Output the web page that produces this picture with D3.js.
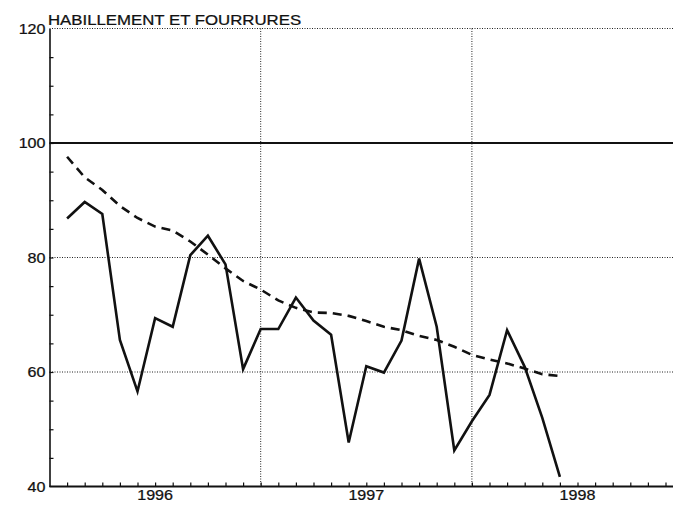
<!DOCTYPE html>
<html lang="fr">
<head>
<meta charset="utf-8">
<title>Habillement et fourrures</title>
<script src="https://cdn.jsdelivr.net/npm/d3@7/dist/d3.min.js"></script>
<style>
  body { margin: 0; background: #fff; }
  text { font-family: "Liberation Sans", Arial, sans-serif; fill: #111; stroke: #111; stroke-width: 0.25; }
</style>
</head>
<body>
<script>
// monthly values, Jan 1996 .. May 1998
var title = "HABILLEMENT ET FOURRURES";
var years = ["1996", "1997", "1998"];
var yTicks = [40, 60, 80, 100, 120];
var actual = [86.8, 89.7, 87.6, 65.6, 56.6, 69.4, 67.9, 80.4, 83.8, 78.8, 60.5, 67.5,
              67.5, 73.0, 69.0, 66.5, 47.7, 61.0, 59.9, 65.5, 79.8, 67.9, 46.3, 51.4,
              56.0, 67.3, 60.9, 52.0, 41.7];
var trend = [97.6, 94.0, 91.8, 89.0, 86.9, 85.4, 84.7, 82.8, 80.5, 78.1, 75.9, 74.4,
             72.5, 71.2, 70.4, 70.3, 69.8, 68.9, 67.9, 67.3, 66.3, 65.6, 64.4, 63.0,
             62.2, 61.5, 60.6, 59.6, 59.3];

var w = 675, h = 505;
var plotLeft = 49.5, plotRight = 673, plotTop = 28.5, plotBottom = 486.5;

var svg = d3.select("body").append("svg")
    .attr("width", w)
    .attr("height", h);

// months counted from Jan 1996, one tick per month
var x = d3.scaleLinear().domain([0, 36]).range([plotLeft, plotLeft + 36 * 17.6]);
var y = d3.scaleLinear().domain([40, 120]).range([plotBottom, plotTop]);

// dotted grid: top line, 80, 60 and the year boundaries
var dotted = "1,1.5";
svg.selectAll("line.hgrid")
    .data([120, 80, 60])
    .enter().append("line")
    .attr("x1", plotLeft).attr("x2", plotRight)
    .attr("y1", function(d) { return y(d); })
    .attr("y2", function(d) { return y(d); })
    .attr("stroke", "#222").attr("stroke-width", 1)
    .attr("stroke-dasharray", dotted);

svg.selectAll("line.vgrid")
    .data([12, 24])
    .enter().append("line")
    .attr("x1", function(d) { return x(d); })
    .attr("x2", function(d) { return x(d); })
    .attr("y1", plotTop).attr("y2", plotBottom)
    .attr("stroke", "#222").attr("stroke-width", 1)
    .attr("stroke-dasharray", dotted);

// solid reference line at 100
svg.append("line")
    .attr("x1", plotLeft).attr("x2", plotRight)
    .attr("y1", y(100)).attr("y2", y(100))
    .attr("stroke", "#111").attr("stroke-width", 1.8);

// x axis: inward monthly ticks, no labels
var xAxis = svg.append("g")
    .attr("transform", "translate(0," + plotBottom + ")")
    .call(d3.axisBottom(x).tickValues(d3.range(1, 36)).tickSize(-4).tickSizeOuter(0).tickFormat(""));
xAxis.select(".domain").remove();
xAxis.selectAll(".tick line").attr("stroke", "#111").attr("stroke-width", 1.2);
svg.append("line")
    .attr("x1", plotLeft).attr("x2", plotRight)
    .attr("y1", plotBottom).attr("y2", plotBottom)
    .attr("stroke", "#111").attr("stroke-width", 2.2);

// year labels centred in each year
svg.selectAll("text.year")
    .data(years)
    .enter().append("text")
    .attr("transform", function(d, i) { return "translate(" + x(6 + 12 * i) + "," + (plotBottom + 13) + ") scale(1.15,1)"; })
    .attr("text-anchor", "middle")
    .attr("font-size", "14px")
    .text(function(d) { return d; });

// y axis: minor ticks every 5, labels every 20
var yAxis = svg.append("g")
    .attr("transform", "translate(" + plotLeft + ",0)")
    .call(d3.axisLeft(y).tickValues(d3.range(45, 120, 5)).tickSize(-4).tickSizeOuter(0).tickFormat(""));
yAxis.select(".domain").attr("stroke", "#111").attr("stroke-width", 1.6);
yAxis.selectAll(".tick line").attr("stroke", "#111").attr("stroke-width", 1.2);

svg.selectAll("text.ylab")
    .data(yTicks)
    .enter().append("text")
    .attr("transform", function(d) { return "translate(" + (plotLeft - 4) + "," + (y(d) + 5) + ") scale(1.15,1)"; })
    .attr("text-anchor", "end")
    .attr("font-size", "14px")
    .text(function(d) { return d; });

// title
svg.append("text")
    .attr("transform", "translate(48,25) scale(1.2,1)")
    .attr("font-size", "14px")
    .text(title);

// series
var line = d3.line()
    .x(function(d, i) { return x(i + 1); })
    .y(function(d) { return y(d); });

svg.append("path")
    .datum(trend)
    .attr("d", line)
    .attr("fill", "none")
    .attr("stroke", "#111")
    .attr("stroke-width", 2.6)
    .attr("stroke-dasharray", "9,6");

svg.append("path")
    .datum(actual)
    .attr("d", line)
    .attr("fill", "none")
    .attr("stroke", "#111")
    .attr("stroke-width", 2.6)
    .attr("stroke-linejoin", "miter");
</script>
</body>
</html>
